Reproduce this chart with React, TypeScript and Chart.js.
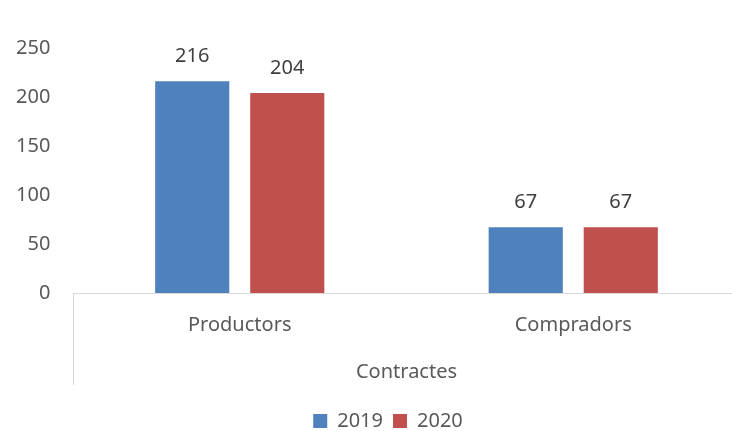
import React, { useEffect, useRef } from "react";
import { Chart, registerables } from "chart.js";

Chart.register(...registerables);

const categories = ["Productors", "Compradors"];
const seriesNames = ["2019", "2020"];
const values2019 = [216, 67];
const values2020 = [204, 67];
const yTicks = [0, 50, 100, 150, 200, 250];
const axisTitle = "Contractes";

const FONT = "'Noto Sans', 'Open Sans', sans-serif";

export default function App() {
  const ref = useRef<HTMLCanvasElement | null>(null);

  useEffect(() => {
    const canvas = ref.current;
    if (!canvas) return;

    const valueLabels = {
      id: "valueLabels",
      afterDatasetsDraw(chart: any) {
        const ctx = chart.ctx;
        ctx.save();
        ctx.font = `20px ${FONT}`;
        ctx.fillStyle = "#404040";
        ctx.textAlign = "center";
        ctx.textBaseline = "middle";
        chart.data.datasets.forEach((ds: any, di: number) => {
          const meta = chart.getDatasetMeta(di);
          meta.data.forEach((bar: any, i: number) => {
            ctx.fillText(String(ds.data[i]), bar.x, bar.y - 25);
          });
        });
        ctx.restore();
      },
    };

    const dividers = {
      id: "dividers",
      afterDraw(chart: any) {
        const ctx = chart.ctx;
        const xs = chart.scales.x;
        ctx.save();
        ctx.strokeStyle = "#d9d9d9";
        ctx.lineWidth = 1;
        [xs.left, xs.right].forEach((x: number) => {
          const px = Math.round(x) + 0.5;
          ctx.beginPath();
          ctx.moveTo(px, xs.top);
          ctx.lineTo(px, xs.top + 92);
          ctx.stroke();
        });
        ctx.restore();
      },
    };

    const chart = new Chart(canvas, {
      type: "bar",
      data: {
        labels: categories,
        datasets: [
          {
            label: seriesNames[0],
            data: values2019,
            backgroundColor: "#4F81BD",
            borderWidth: 0,
            categoryPercentage: 0.57,
            barPercentage: 0.78,
          },
          {
            label: seriesNames[1],
            data: values2020,
            backgroundColor: "#C0504D",
            borderWidth: 0,
            categoryPercentage: 0.57,
            barPercentage: 0.78,
          },
        ],
      },
      options: {
        responsive: false,
        animation: false,
        devicePixelRatio: 1,
        layout: { padding: { left: 36, right: 0, top: 48, bottom: 0 } },
        plugins: {
          legend: {
            position: "bottom",
            labels: {
              boxWidth: 14,
              boxHeight: 14,
              padding: 10,
              color: "#595959",
              font: { family: FONT, size: 20 },
            },
          },
          tooltip: { enabled: false },
        },
        scales: {
          x: {
            grid: { display: false },
            border: { display: true, color: "#d9d9d9", width: 1 },
            ticks: {
              color: "#595959",
              font: { family: FONT, size: 20 },
              padding: 12,
            },
            title: {
              display: true,
              text: axisTitle,
              color: "#595959",
              font: { family: FONT, size: 20 },
              padding: { top: 11, bottom: 17 },
            },
          },
          y: {
            min: yTicks[0],
            max: yTicks[yTicks.length - 1],
            grid: { display: false },
            border: { display: false },
            afterBuildTicks(scale: any) {
              scale.ticks = yTicks.map((v) => ({ value: v }));
            },
            afterFit(scale: any) {
              scale.width = 37;
            },
            ticks: {
              mirror: true,
              crossAlign: "far",
              color: "#595959",
              font: { family: FONT, size: 20 },
              padding: -57,
            },
          },
        },
      },
      plugins: [valueLabels, dividers],
    });

    return () => chart.destroy();
  }, []);

  return (
    <div
      style={{
        position: "fixed",
        left: 0,
        top: 0,
        width: 732,
        height: 431,
        overflow: "hidden",
        background: "#ffffff",
      }}
    >
      <canvas ref={ref} width={740} height={441} style={{ display: "block" }} />
    </div>
  );
}
